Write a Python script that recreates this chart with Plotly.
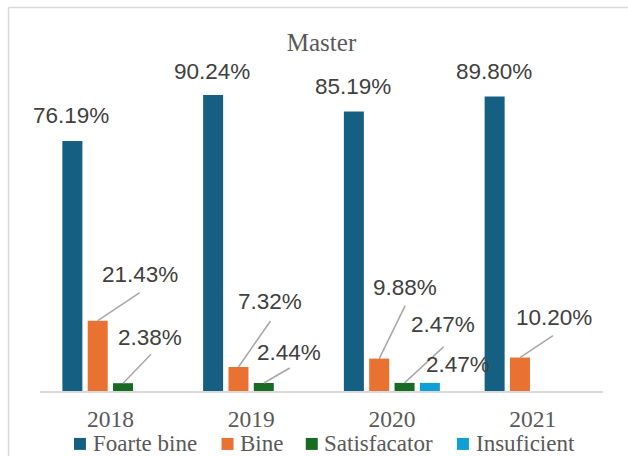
import plotly.graph_objects as go

# ---------------- data ----------------
years = ["2018", "2019", "2020", "2021"]
series_names = ["Foarte bine", "Bine", "Satisfacator", "Insuficient"]
foarte_bine = [76.19, 90.24, 85.19, 89.80]
bine = [21.43, 7.32, 9.88, 10.20]
satisfacator = [2.38, 2.44, 2.47, None]
insuficient = [None, None, 2.47, None]
title_text = "Master"

# ---------------- styles ----------------
colors = ["#156082", "#E97132", "#196B24", "#0F9ED5"]
series_values = [foarte_bine, bine, satisfacator, insuficient]
LABEL_FONT = dict(family="Liberation Sans, Arial, sans-serif", size=22.5, color="#404040")
SERIF = "Liberation Serif, Times New Roman, serif"
LEADER_COLOR = "#a6a6a6"
BARGAP = 0.28
BARGROUPGAP = 0.21

# label placement (pixel offsets from bar-top centre): text (dx, dy), leader end (lx, ly) or None
label_layout = {
    (0, 0): ((-1, -26), None), (0, 1): ((-1, -24), None),
    (0, 2): ((-1, -25), None), (0, 3): ((-1, -25), None),
    (1, 0): ((42, -46), (42, -28)), (1, 1): ((32, -65), (32, -46)),
    (1, 2): ((26, -71), (26, -53)), (1, 3): ((34, -40), (33, -22)),
    (2, 0): ((27, -46), (28, -29)), (2, 1): ((25, -31), (26, -15)),
    (2, 2): ((38, -58), (39, -36)),
    (3, 2): ((28, -18), None),
}

# figure geometry (px)
L, R, T, B, W, H = 40, 24.5, 62.5, 65, 628, 456
pw, ph = W - L - R, H - T - B
def px_x(px):
    return (px - L) / pw
def px_y(py):
    return (H - B - py) / ph

# manual legend geometry: square left edge px, text left px, centre y px
legend_square_x = [74, 221.7, 306, 457.3]
legend_text_x = [90.7, 238, 322.7, 474]
LEGEND_Y = 444
SQ = 12

fig = go.Figure()
for name, vals, col in zip(series_names, series_values, colors):
    fig.add_trace(go.Bar(name=name, x=years, y=vals, marker=dict(color=col, line=dict(width=0)),
                         hoverinfo="skip", showlegend=False))

slot = (1 - BARGAP) / len(series_names)
annotations = []
shapes = []
for si, vals in enumerate(series_values):
    for yi, v in enumerate(vals):
        if v is None or (si, yi) not in label_layout:
            continue
        (dx, dy), leader = label_layout[(si, yi)]
        xc = yi + (si - (len(series_names) - 1) / 2) * slot
        annotations.append(dict(x=xc, y=v, xref="x", yref="y", text=f"{v:.2f}%",
                                showarrow=False, xanchor="center", yanchor="middle",
                                xshift=dx, yshift=-dy, font=LABEL_FONT))
        if leader is not None:
            lx, ly = leader
            shapes.append(dict(type="line", xref="x", yref="y", xsizemode="pixel", ysizemode="pixel",
                               xanchor=xc, yanchor=v, x0=0, y0=0, x1=lx, y1=-ly,
                               line=dict(color=LEADER_COLOR, width=1.5)))

# legend (drawn manually)
for name, col, sx, tx in zip(series_names, colors, legend_square_x, legend_text_x):
    shapes.append(dict(type="rect", xref="paper", yref="paper",
                       x0=px_x(sx), x1=px_x(sx + SQ),
                       y0=px_y(LEGEND_Y + SQ / 2), y1=px_y(LEGEND_Y - SQ / 2),
                       fillcolor=col, line=dict(width=0)))
    annotations.append(dict(x=px_x(tx), y=px_y(LEGEND_Y), xref="paper", yref="paper",
                            text=name, showarrow=False, xanchor="left", yanchor="middle",
                            font=dict(family=SERIF, size=23, color="#595959")))

# chart frame (top and left edge)
fx0 = px_x(8.5)
fy1 = px_y(7)
shapes.append(dict(type="line", xref="paper", yref="paper", x0=fx0, x1=px_x(W + 5),
                   y0=fy1, y1=fy1, line=dict(color="#d9d9d9", width=1.5)))
shapes.append(dict(type="line", xref="paper", yref="paper", x0=fx0, x1=fx0,
                   y0=px_y(H + 5), y1=fy1, line=dict(color="#d9d9d9", width=1.5)))

fig.update_layout(
    width=W, height=H,
    margin=dict(l=L, r=R, t=T, b=B, pad=0),
    paper_bgcolor="white", plot_bgcolor="white",
    barmode="group", bargap=BARGAP, bargroupgap=BARGROUPGAP,
    title=dict(text=title_text, x=0.5, xref="paper", xanchor="center",
               y=1 - 42 / H, yref="container", yanchor="middle",
               font=dict(family=SERIF, size=25, color="#595959")),
    xaxis=dict(type="category", range=[-0.5, len(years) - 0.5], autorange=False,
               showline=True, linecolor="#d9d9d9", linewidth=2,
               ticks="", showgrid=False, zeroline=False, automargin=False,
               ticklabelstandoff=6,
               tickfont=dict(family=SERIF, size=23.5, color="#595959")),
    yaxis=dict(range=[0, 100], autorange=False, visible=False, showgrid=False, zeroline=False),
    annotations=annotations,
    shapes=shapes,
    showlegend=False,
)

fig.write_html("out.html", config={"responsive": False, "displayModeBar": False},
               post_script="document.body.style.margin='0';document.body.style.overflow='hidden';")
